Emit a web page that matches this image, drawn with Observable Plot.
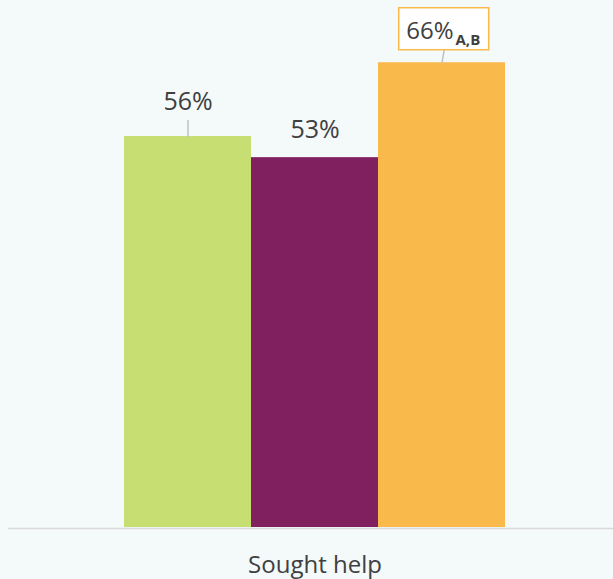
<!DOCTYPE html>
<html><head><meta charset="utf-8">
<script src="https://cdn.jsdelivr.net/npm/d3@7"></script>
<script src="https://cdn.jsdelivr.net/npm/@observablehq/plot@0.6"></script>
<style>
html,body{margin:0;padding:0;background:#f4f9fa;}
#chart svg{display:block;}
</style></head><body><div id="chart"></div>
<script>
const category = "Sought help";
const series = ["A", "B", "C"];
const values = [55.6, 52.6, 66.1];
const labels = ["56%", "53%", "66%"];
const significance = ["", "", "A,B"];
const colors = ["#c6de72", "#80205e", "#f9b94b"];

const data = series.map((s, i) => ({series: s, value: values[i], label: labels[i], sig: significance[i]}));
const font = "'Open Sans', sans-serif";
const textColor = "#404040";
const leader = {draw(context, l) { context.moveTo(0, 0); context.lineTo(0, -l); }};

const plot = Plot.plot({
  width: 613, height: 579,
  marginLeft: 16, marginRight: 0, marginTop: 0, marginBottom: 52,
  style: {background: "transparent", fontFamily: font},
  x: {domain: series, range: [124, 505], padding: 0, axis: null},
  y: {domain: [0, 70], range: [527, 34.8], axis: null},
  color: {domain: series, range: colors},
  marks: [
    Plot.ruleY([0], {stroke: "#d9d9d9", strokeWidth: 1.5, dy: 1, insetLeft: -8}),
    Plot.barY(data, {x: "series", y: "value", fill: "series"}),
    Plot.vector(data.filter(d => d.series === "A"), {x: "series", y: "value", length: 16, rotate: 0, anchor: "start", shape: leader, stroke: "#c0c0c0", strokeWidth: 1.5}),
    Plot.vector(data.filter(d => d.series === "C"), {x: "series", y: "value", length: 13, rotate: 10, anchor: "start", shape: leader, stroke: "#c0c0c0", strokeWidth: 1.5}),
    Plot.text(data.filter(d => d.series === "A"), {x: "series", y: "value", text: "label", lineAnchor: "bottom", dy: -27, fontSize: 25, fill: textColor}),
    Plot.text(data.filter(d => d.series === "B"), {x: "series", y: "value", text: "label", lineAnchor: "bottom", dy: -20, fontSize: 25, fill: textColor}),
    Plot.text(data.filter(d => d.series === "C"), {x: "series", y: "value", text: "label", lineAnchor: "bottom", textAnchor: "end", dx: 11.5, dy: -24, fontSize: 24, fill: textColor, className: "hl-label"}),
    Plot.text(data.filter(d => d.series === "C"), {x: "series", y: "value", text: "sig", lineAnchor: "bottom", textAnchor: "start", dx: 13.5, dy: -18, fontSize: 15, fontWeight: "bold", fill: textColor, className: "hl-label"}),
    Plot.text([category], {text: d => d, frameAnchor: "bottom", lineAnchor: "middle", dy: 38, fontSize: 24, fill: textColor})
  ]
});
document.getElementById("chart").append(plot);

// Box around the highlighted label, sized from the rendered text
const svgRect = plot.getBoundingClientRect();
const texts = plot.querySelectorAll(".hl-label text");
let x0 = Infinity, y0 = Infinity, x1 = -Infinity, y1 = -Infinity;
texts.forEach(t => {
  const r = t.getBoundingClientRect();
  x0 = Math.min(x0, r.left - svgRect.left); x1 = Math.max(x1, r.right - svgRect.left);
  y0 = Math.min(y0, r.top - svgRect.top); y1 = Math.max(y1, r.bottom - svgRect.top);
});
if (texts.length) {
  const pad = {l: 7.5, r: 8.5, t: 5, b: 1};
  const rect = document.createElementNS("http://www.w3.org/2000/svg", "rect");
  rect.setAttribute("x", x0 - pad.l);
  rect.setAttribute("y", y0 - pad.t);
  rect.setAttribute("width", x1 - x0 + pad.l + pad.r);
  rect.setAttribute("height", y1 - y0 + pad.t + pad.b);
  rect.setAttribute("fill", "#ffffff");
  rect.setAttribute("stroke", colors[2]);
  rect.setAttribute("stroke-width", 1.5);
  const firstLabel = plot.querySelector(".hl-label");
  firstLabel.parentNode.insertBefore(rect, firstLabel);
}
</script>
</body></html>
